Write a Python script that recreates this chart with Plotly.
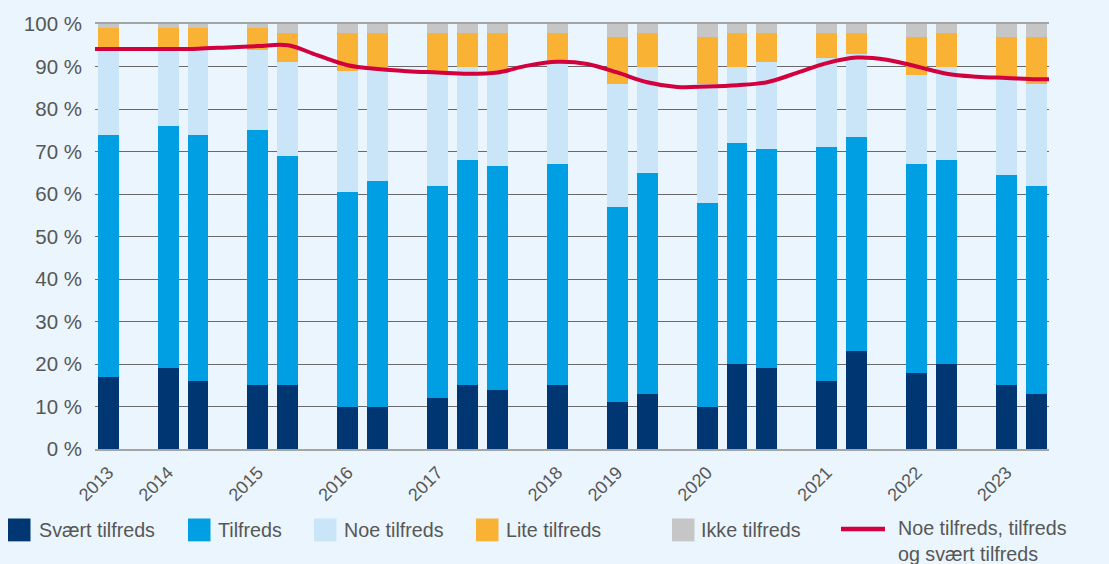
"""Tilfredshet per undersøkelse 2013-2023: stablede søyler med glattet linje."""

import plotly.graph_objects as go

# Posisjon (slot) for hver søyle; tomme slots gir mellomrom mellom årene
BAR_SLOTS = [0, 2, 3, 5, 6, 8, 9, 11, 12, 13, 15, 17, 18, 20, 21, 22, 24, 25, 27, 28, 30, 31]

YEAR_LABELS = ["2013", "2014", "2015", "2016", "2017", "2018", "2019", "2020", "2021", "2022", "2023"]
YEAR_SLOTS = [0, 2, 5, 8, 11, 15, 17, 20, 24, 27, 30]

SVAERT = [17, 19, 16, 15, 15, 10, 10, 12, 15, 14, 15, 11, 13, 10, 20, 19, 16, 23, 18, 20, 15, 13]
TILFREDS = [57, 57, 58, 60, 54, 50.5, 53, 50, 53, 52.5, 52, 46, 52, 48, 52, 51.5, 55, 50.5, 49, 48, 49.5, 49]
NOE = [20, 18, 20, 19, 22, 28.5, 26.5, 27, 22, 22.5, 24, 29, 25, 28, 18, 20.5, 21, 19.5, 21, 22, 22.5, 24]
LITE = [5, 5, 5, 5, 7, 9, 8.5, 9, 8, 9, 7, 11, 8, 11, 8, 7, 6, 5, 9, 8, 10, 11]
IKKE = [1, 1, 1, 1, 2, 2, 2, 2, 2, 2, 2, 3, 2, 3, 2, 2, 2, 2, 3, 2, 3, 3]

# Glattet linje, lest av per slot 0..31
LINE_SLOTS = list(range(32))
LINE_VALUES = [
    94.1, 94.1, 94.1, 94.2, 94.5, 94.8, 95.0, 92.6, 90.3, 89.4, 88.9, 88.6,
    88.3, 88.6, 90.2, 91.1, 90.6, 88.6, 86.3, 85.2, 85.3, 85.6, 86.3, 88.5,
    90.8, 92.1, 91.6, 90.0, 88.3, 87.6, 87.3, 87.0,
]

Y_TICKS = [0, 10, 20, 30, 40, 50, 60, 70, 80, 90, 100]

X_RANGE = [-0.44, 31.42]

COLORS = {
    "svaert": "#003671",
    "tilfreds": "#009FE3",
    "noe": "#C9E5F7",
    "lite": "#F9B234",
    "ikke": "#C6C6C6",
    "line": "#D2003C",
    "bg": "#EAF5FD",
    "text": "#575757",
    "grid": "#6A6A6A",
    "edge": "#A2A6A9",
}

FONT = "Liberation Sans, Arial, Helvetica, sans-serif"

W, H = 1109, 564
MARGIN = {"l": 95, "r": 60, "t": 21, "b": 115}


def px_to_paper(x, y):
    pw = W - MARGIN["l"] - MARGIN["r"]
    ph = H - MARGIN["t"] - MARGIN["b"]
    return (x - MARGIN["l"]) / pw, (H - MARGIN["b"] - y) / ph


series = [
    ("Svært tilfreds", SVAERT, COLORS["svaert"]),
    ("Tilfreds", TILFREDS, COLORS["tilfreds"]),
    ("Noe tilfreds", NOE, COLORS["noe"]),
    ("Lite tilfreds", LITE, COLORS["lite"]),
    ("Ikke tilfreds", IKKE, COLORS["ikke"]),
]

fig = go.Figure()
for name, values, color in series:
    fig.add_trace(
        go.Bar(
            x=BAR_SLOTS,
            y=values,
            name=name,
            width=0.7,
            marker={"color": color, "line": {"width": 0}},
            showlegend=False,
            hovertemplate="%{y} %<extra>" + name + "</extra>",
        )
    )

line_x = [X_RANGE[0]] + LINE_SLOTS + [X_RANGE[1]]
line_y = [LINE_VALUES[0]] + LINE_VALUES + [LINE_VALUES[-1]]
fig.add_trace(
    go.Scatter(
        x=line_x,
        y=line_y,
        mode="lines",
        name="Noe tilfreds, tilfreds og svært tilfreds",
        line={"color": COLORS["line"], "width": 4, "shape": "spline", "smoothing": 1},
        showlegend=False,
        hovertemplate="%{y:.0f} %<extra></extra>",
    )
)

fig.update_layout(
    width=W,
    height=H,
    barmode="stack",
    paper_bgcolor=COLORS["bg"],
    plot_bgcolor=COLORS["bg"],
    margin=MARGIN,
    font={"family": FONT, "color": COLORS["text"], "size": 19},
    showlegend=False,
)
fig.update_xaxes(
    range=X_RANGE,
    tickvals=YEAR_SLOTS,
    ticktext=YEAR_LABELS,
    tickangle=-45,
    tickfont={"size": 18, "color": COLORS["text"]},
    ticks="outside",
    ticklen=4,
    tickcolor="rgba(0,0,0,0)",
    showgrid=False,
    zeroline=False,
    showline=True,
    mirror=True,
    linecolor=COLORS["edge"],
    linewidth=2,
)
fig.update_yaxes(
    range=[0, 100],
    tickvals=Y_TICKS,
    ticktext=[f"{v} %" for v in Y_TICKS],
    tickfont={"size": 20.5, "color": COLORS["text"]},
    ticklabelstandoff=12,
    showgrid=True,
    gridcolor=COLORS["grid"],
    gridwidth=1,
    zeroline=False,
)

# Egen tegnforklaring nederst
legend_items = [
    ("Svært tilfreds", COLORS["svaert"], 8, 37),
    ("Tilfreds", COLORS["tilfreds"], 188, 216),
    ("Noe tilfreds", COLORS["noe"], 314, 342),
    ("Lite tilfreds", COLORS["lite"], 476, 504),
    ("Ikke tilfreds", COLORS["ikke"], 672, 699),
]
for label, color, sq_x, tx in legend_items:
    x0, y0 = px_to_paper(sq_x, 542)
    x1, y1 = px_to_paper(sq_x + 22.5, 519)
    fig.add_shape(type="rect", xref="paper", yref="paper", x0=x0, y0=y0, x1=x1, y1=y1,
                  fillcolor=color, line={"width": 0})
    ax, ay = px_to_paper(tx, 530.5)
    fig.add_annotation(text=label, xref="paper", yref="paper", x=ax, y=ay,
                       xanchor="left", yanchor="middle", showarrow=False,
                       font={"size": 19.7, "color": COLORS["text"]})

lx0, ly = px_to_paper(841, 529.5)
lx1, _ = px_to_paper(885, 529.5)
fig.add_shape(type="line", xref="paper", yref="paper", x0=lx0, y0=ly, x1=lx1, y1=ly,
              line={"color": COLORS["line"], "width": 4.5})
ax, ay = px_to_paper(896, 542)
fig.add_annotation(text="Noe tilfreds, tilfreds<br>og svært tilfreds", xref="paper", yref="paper",
                   x=ax, y=ay, xanchor="left", yanchor="middle", align="left", showarrow=False,
                   font={"size": 19.7, "color": COLORS["text"]})

# Fjern standardmargen i siden slik at figuren fyller hele vinduet
page_fix = (
    "document.body.style.margin='0';"
    "document.body.style.overflow='hidden';"
    "document.body.style.background='" + COLORS["bg"] + "';"
)
fig.write_html("out.html", post_script=page_fix, config={"displayModeBar": False})
